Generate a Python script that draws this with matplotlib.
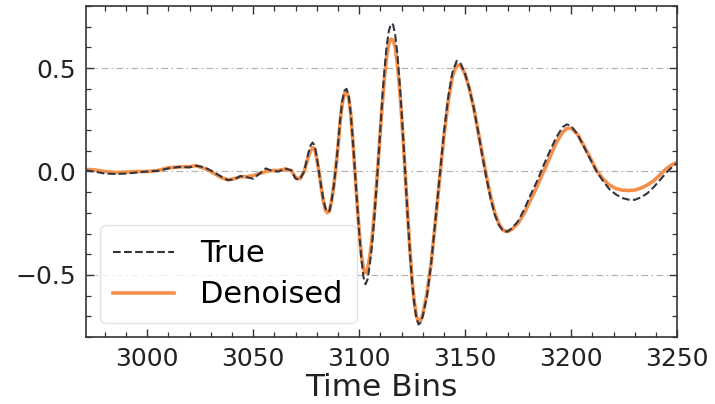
import matplotlib
matplotlib.use("Agg")
import matplotlib.pyplot as plt
from matplotlib.ticker import MultipleLocator

# ==============================
# DATA
# ==============================
time_bins = [
    2971, 2975, 2980, 2985, 2990, 2995, 3000, 3005, 3010, 3015, 3020, 3023,
    3027, 3030, 3035, 3038, 3041, 3044, 3047, 3050, 3053, 3056, 3059, 3062,
    3065, 3068, 3070, 3072, 3074, 3076, 3077, 3078, 3079, 3080, 3081, 3082,
    3083, 3084, 3085, 3086, 3087, 3088, 3089, 3090, 3091, 3092, 3093, 3094,
    3095, 3096, 3097, 3098, 3099, 3100, 3101, 3102, 3103, 3104, 3105, 3106,
    3107, 3108, 3109, 3110, 3111, 3112, 3113, 3114, 3115, 3116, 3117, 3118,
    3119, 3120, 3121, 3122, 3123, 3124, 3125, 3126, 3127, 3128, 3129, 3130,
    3132, 3134, 3136, 3138, 3140, 3142, 3144, 3146, 3148, 3150, 3152, 3154,
    3156, 3158, 3160, 3162, 3164, 3166, 3168, 3170, 3172, 3175, 3178, 3181,
    3184, 3187, 3190, 3193, 3196, 3198, 3200, 3203, 3206, 3209, 3212, 3215,
    3218, 3221, 3224, 3227, 3230, 3233, 3236, 3239, 3242, 3245, 3248, 3250,
]

true_signal = [
    0.005, 0.0, -0.01, -0.012, -0.01, -0.005, 0.0, 0.003, 0.015, 0.022, 0.02, 0.028,
    0.02, 0.005, -0.025, -0.042, -0.038, -0.022, -0.028, -0.035, -0.01, 0.015, 0.002, 0.0,
    0.015, 0.005, -0.035, -0.04, 0.0, 0.09, 0.125, 0.14, 0.125, 0.07, 0.0, -0.07,
    -0.13, -0.175, -0.195, -0.19, -0.14, -0.07, 0.02, 0.13, 0.25, 0.34, 0.39, 0.40,
    0.37, 0.28, 0.15, 0.0, -0.15, -0.30, -0.42, -0.51, -0.545, -0.52, -0.45, -0.36,
    -0.24, -0.10, 0.05, 0.21, 0.37, 0.50, 0.61, 0.68, 0.715, 0.71, 0.66, 0.57,
    0.44, 0.29, 0.12, -0.06, -0.24, -0.40, -0.54, -0.64, -0.71, -0.74, -0.73, -0.70,
    -0.60, -0.44, -0.23, -0.02, 0.19, 0.36, 0.48, 0.535, 0.52, 0.47, 0.40, 0.31,
    0.20, 0.08, -0.03, -0.13, -0.21, -0.26, -0.29, -0.29, -0.275, -0.24, -0.18, -0.11,
    -0.045, 0.03, 0.10, 0.165, 0.215, 0.228, 0.22, 0.18, 0.12, 0.06, 0.0, -0.045,
    -0.085, -0.11, -0.128, -0.136, -0.137, -0.125, -0.105, -0.075, -0.04, -0.005, 0.025, 0.04,
]

denoised_signal = [
    0.01, 0.008, 0.0, -0.005, -0.003, 0.0, 0.0, 0.005, 0.018, 0.022, 0.024, 0.028,
    0.015, 0.0, -0.03, -0.04, -0.035, -0.025, -0.025, -0.02, -0.01, 0.0, 0.005, 0.005,
    0.012, 0.005, -0.03, -0.035, 0.0, 0.07, 0.10, 0.115, 0.11, 0.06, 0.0, -0.07,
    -0.14, -0.185, -0.20, -0.19, -0.14, -0.07, 0.02, 0.12, 0.24, 0.33, 0.375, 0.385,
    0.36, 0.28, 0.15, 0.0, -0.15, -0.29, -0.40, -0.47, -0.49, -0.47, -0.41, -0.33,
    -0.22, -0.09, 0.05, 0.20, 0.34, 0.46, 0.56, 0.62, 0.64, 0.635, 0.60, 0.52,
    0.41, 0.27, 0.11, -0.06, -0.23, -0.39, -0.53, -0.63, -0.70, -0.725, -0.72, -0.69,
    -0.59, -0.44, -0.24, -0.03, 0.17, 0.34, 0.46, 0.515, 0.51, 0.47, 0.40, 0.31,
    0.20, 0.09, -0.02, -0.12, -0.20, -0.255, -0.285, -0.29, -0.28, -0.25, -0.20, -0.135,
    -0.07, 0.0, 0.07, 0.14, 0.19, 0.208, 0.21, 0.18, 0.125, 0.065, 0.005, -0.035,
    -0.065, -0.082, -0.09, -0.092, -0.09, -0.08, -0.065, -0.045, -0.015, 0.015, 0.035, 0.045,
]


def main():
    fig, ax = plt.subplots(figsize=(7.15, 4.04), dpi=100)
    fig.subplots_adjust(left=0.120, right=0.947, top=0.985, bottom=0.166)

    ax.plot(time_bins, true_signal, linestyle="--", color="#34343f",
            linewidth=1.5, label="True", zorder=3)
    ax.plot(time_bins, denoised_signal, color="#f3914c",
            linewidth=2.6, label="Denoised", zorder=2)

    ax.set_xlim(2971, 3250)
    ax.set_ylim(-0.8, 0.8)

    ax.xaxis.set_major_locator(MultipleLocator(50))
    ax.xaxis.set_minor_locator(MultipleLocator(10))
    ax.yaxis.set_major_locator(MultipleLocator(0.5))
    ax.yaxis.set_minor_locator(MultipleLocator(0.1))

    ax.tick_params(which="both", direction="in", top=True, right=True,
                   color="#333333", labelcolor="#222222")
    ax.tick_params(which="major", length=6, width=1.0, labelsize=18, pad=7)
    ax.tick_params(which="minor", length=3.5, width=0.9)

    for sp in ax.spines.values():
        sp.set_color("#333333")
        sp.set_linewidth(1.2)

    ax.yaxis.grid(True, linestyle=(0, (6, 3, 1.5, 3)), color="#b0b0b0",
                  linewidth=0.8)
    ax.set_axisbelow(True)

    ax.set_xlabel("Time Bins", fontsize=22.5, color="#222222", labelpad=2)

    leg = ax.legend(loc="lower left", fontsize=22, frameon=True,
                    fancybox=True, framealpha=0.8, borderpad=0.45,
                    handlelength=2.0, handletextpad=0.85, labelspacing=0.4,
                    borderaxespad=0.45)
    leg.get_frame().set_edgecolor("#dddddd")

    fig.savefig("out.png", dpi=100)
    plt.close(fig)


if __name__ == "__main__":
    main()
